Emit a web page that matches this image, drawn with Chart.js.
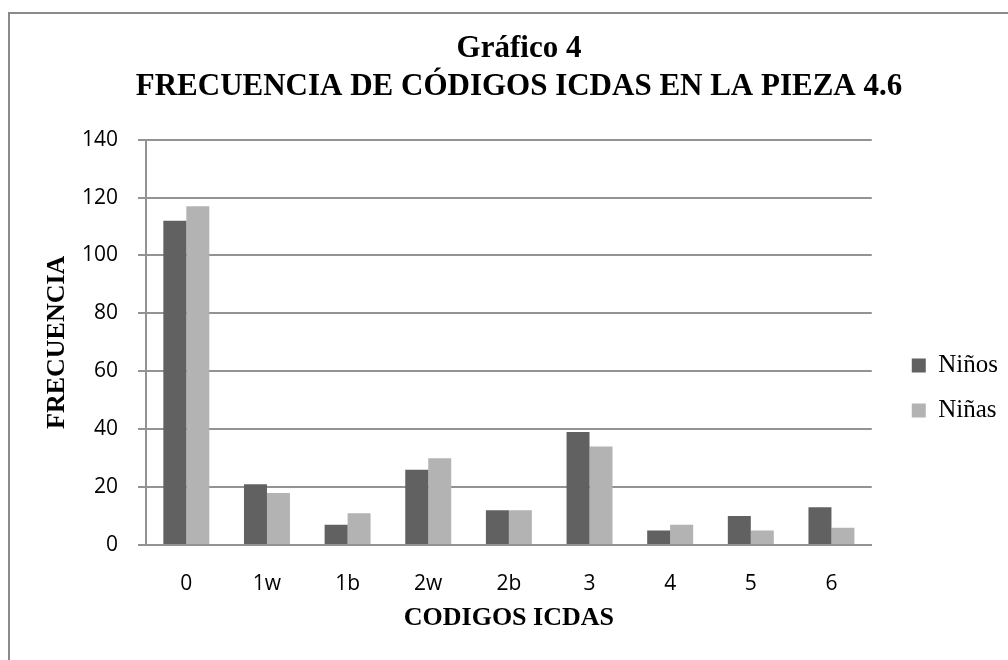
<!DOCTYPE html>
<html>
<head>
<meta charset="utf-8">
<script src="https://cdn.jsdelivr.net/npm/chart.js@4.4.0/dist/chart.umd.min.js"></script>
<style>
  body { margin: 0; background: #fff; }
  #wrap { position: relative; width: 1008px; height: 660px; overflow: hidden; }
  #frame { position: absolute; left: 8px; top: 12px; width: 1100px; height: 700px;
           border-top: 2px solid #8a8a8a; border-left: 2px solid #8a8a8a; }
  #myChart { position: absolute; left: 0; top: 0; }
</style>
</head>
<body>
<div id="wrap">
  <div id="frame"></div>
  <canvas id="myChart" width="1008" height="660"></canvas>
</div>
<script>
// data
const categories = ['0', '1w', '1b', '2w', '2b', '3', '4', '5', '6'];
const ninos = [112, 21, 7, 26, 12, 39, 5, 10, 13];
const ninas = [117, 18, 11, 30, 12, 34, 7, 5, 6];
const yMin = 0;
const yMax = 140;
const yStep = 20;

const serif = '"Liberation Serif", "Times New Roman", serif';
const sans = '"Open Sans", "Liberation Sans", sans-serif';
const lineGray = '#939393';

// push the legend away from the plot and down a bit, like the Excel original
const legendGapX = 20;
const legendShiftY = 52;
const legendPlacer = {
  id: 'legendPlacer',
  afterInit(chart) {
    const legend = chart.legend;
    const fit = legend.fit;
    legend.fit = function () {
      fit.call(this);
      this.width += legendGapX;
    };
  },
  afterLayout(chart) {
    const legend = chart.legend;
    legend.left += legendGapX;
    legend.right += legendGapX;
    legend.top += legendShiftY;
    legend.bottom += legendShiftY;
  }
};

const ctx = document.getElementById('myChart').getContext('2d');
const myChart = new Chart(ctx, {
  type: 'bar',
  data: {
    labels: categories,
    datasets: [
      { label: 'Niños', data: ninos, backgroundColor: '#616161', borderWidth: 0 },
      { label: 'Niñas', data: ninas, backgroundColor: '#b3b3b3', borderWidth: 0 }
    ]
  },
  options: {
    responsive: false,
    animation: false,
    categoryPercentage: 0.57,
    barPercentage: 1.0,
    layout: { padding: { top: 12, left: 30, right: 0, bottom: 0 } },
    plugins: {
      title: {
        display: true,
        text: ['Gráfico 4', 'FRECUENCIA DE CÓDIGOS ICDAS EN LA PIEZA 4.6'],
        color: '#000',
        font: { family: serif, size: 31, weight: 'bold', lineHeight: 1.22 },
        padding: { top: 18, bottom: 34 }
      },
      legend: {
        position: 'right',
        labels: {
          color: '#000',
          font: { family: serif, size: 25 },
          boxWidth: 14,
          boxHeight: 14,
          padding: 20
        }
      },
      tooltip: { enabled: false }
    },
    scales: {
      x: {
        afterFit: function (scale) { scale.height = 115; },
        grid: { display: false, drawTicks: false },
        border: { display: true, color: lineGray, width: 2 },
        ticks: { color: '#000', font: { family: sans, size: 21 }, padding: 26 },
        title: {
          display: true,
          text: 'CODIGOS ICDAS',
          color: '#000',
          font: { family: serif, size: 26, weight: 'bold', lineHeight: 1.2 },
          padding: { top: 0, bottom: 26 }
        }
      },
      y: {
        min: yMin,
        max: yMax,
        afterFit: function (scale) { scale.width = 116; },
        grid: { color: lineGray, lineWidth: 2, tickLength: 8 },
        border: { display: true, color: lineGray, width: 2 },
        ticks: { stepSize: yStep, color: '#000', font: { family: sans, size: 21 }, padding: 20 },
        title: {
          display: true,
          text: 'FRECUENCIA',
          color: '#000',
          font: { family: serif, size: 26, weight: 'bold', lineHeight: 1.2 },
          padding: { top: 12, bottom: 0 }
        }
      }
    }
  },
  plugins: [legendPlacer]
});
</script>
</body>
</html>
